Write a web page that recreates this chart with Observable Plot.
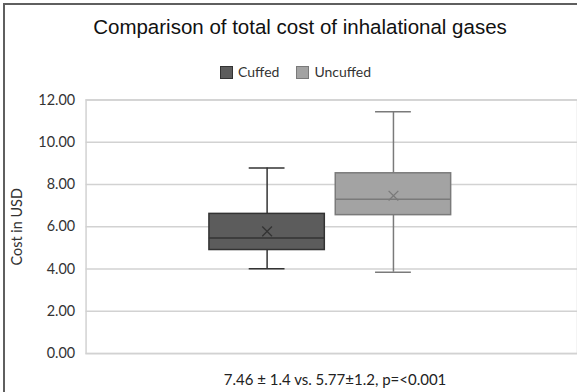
<!DOCTYPE html>
<html>
<head>
<meta charset="utf-8">
<script src="https://cdn.jsdelivr.net/npm/d3@7"></script>
<script src="https://cdn.jsdelivr.net/npm/@observablehq/plot@0.6"></script>
<style>
  body { margin: 0; background: #fff; }
  #wrap { position: relative; width: 577px; height: 392px; overflow: hidden; background: #fff; }
  #border { position: absolute; left: 3px; top: 3px; width: 600px; height: 400px; border-left: 2px solid #5f5f5f; border-top: 2px solid #5f5f5f; }
  #title { position: absolute; top: 15px; left: 0; width: 600px; text-align: center; font-family: "Liberation Sans", Arial, sans-serif; font-size: 20.5px; line-height: 24px; color: #111; }
  #legend { position: absolute; top: 64px; left: 220px; height: 16px; display: flex; align-items: center; font-family: Lato, sans-serif; font-size: 14px; line-height: 16px; color: #333; }
  #legend .sw { width: 11px; height: 11px; border: 1px solid #333; margin-right: 5px; }
  #legend .item { display: flex; align-items: center; margin-right: 17px; }
  #chart { position: absolute; top: 88px; left: 0; }
  #caption { position: absolute; top: 371px; left: 0; width: 670px; text-align: center; font-family: Lato, sans-serif; font-size: 15px; line-height: 16px; color: #222; }
</style>
</head>
<body>
<div id="wrap">
  <div id="border"></div>
  <div id="title">Comparison of total cost of inhalational gases</div>
  <div id="legend"></div>
  <div id="chart"></div>
  <div id="caption">7.46 ± 1.4 vs. 5.77±1.2, p=&lt;0.001</div>
</div>
<script>
// Data
const groups  = ["Cuffed", "Uncuffed"];
const mins    = [4.01, 3.85];
const q1s     = [4.90, 6.55];
const medians = [5.47, 7.30];
const q3s     = [6.61, 8.53];
const maxs    = [8.78, 11.44];
const means   = [5.78, 7.47];
const yTicks  = [0, 2, 4, 6, 8, 10, 12];

// Styles
const fills   = ["#5c5c5c", "#a3a3a3"];
const strokes = ["#333333", "#7a7a7a"];

const rows = groups.map((g, i) => ({group: g, min: mins[i], q1: q1s[i], median: medians[i], q3: q3s[i], max: maxs[i], mean: means[i]}));

// Legend
const legend = document.getElementById("legend");
groups.forEach((g, i) => {
  const item = document.createElement("div");
  item.className = "item";
  const sw = document.createElement("div");
  sw.className = "sw";
  sw.style.background = fills[i];
  sw.style.borderColor = strokes[i];
  const t = document.createElement("span");
  t.textContent = g;
  item.append(sw, t);
  legend.append(item);
});

const marks = [
  Plot.ruleY(yTicks, {stroke: "#d2d2d2", strokeWidth: 1.5}),
  Plot.frame({stroke: "#d2d2d2", strokeWidth: 1.5})
];
rows.forEach((r, i) => {
  const d = [r];
  marks.push(
    Plot.ruleX(d, {x: "group", y1: "min", y2: "q1", stroke: strokes[i], strokeWidth: 1.5}),
    Plot.ruleX(d, {x: "group", y1: "q3", y2: "max", stroke: strokes[i], strokeWidth: 1.5}),
    Plot.tickY(d, {x: "group", y: "min", stroke: strokes[i], strokeWidth: 1.5, insetLeft: 40, insetRight: 40}),
    Plot.tickY(d, {x: "group", y: "max", stroke: strokes[i], strokeWidth: 1.5, insetLeft: 40, insetRight: 40}),
    Plot.barY(d, {x: "group", y1: "q1", y2: "q3", fill: fills[i], stroke: strokes[i], strokeWidth: 1.5}),
    Plot.tickY(d, {x: "group", y: "median", stroke: strokes[i], strokeWidth: 1.5}),
    Plot.dot(d, {x: "group", y: "mean", symbol: "times", r: 4.5, stroke: strokes[i], strokeWidth: 1.3})
  );
});

const chart = Plot.plot({
  width: 580,
  height: 280,
  marginTop: 11.5,
  marginBottom: 13.5,
  marginLeft: 86,
  marginRight: 0,
  style: {fontFamily: "Lato, sans-serif", fontSize: "14.5px", color: "#333", background: "transparent"},
  x: {domain: groups, range: [210, 453], paddingInner: 0.087, paddingOuter: 0, axis: null},
  y: {
    domain: [0, 12],
    ticks: yTicks,
    tickFormat: d => d.toFixed(2),
    tickSize: 0,
    tickPadding: 11,
    label: "Cost in USD",
    labelAnchor: "center",
    labelOffset: 75,
    labelArrow: false
  },
  marks
});
document.getElementById("chart").append(chart);
</script>
</body>
</html>
